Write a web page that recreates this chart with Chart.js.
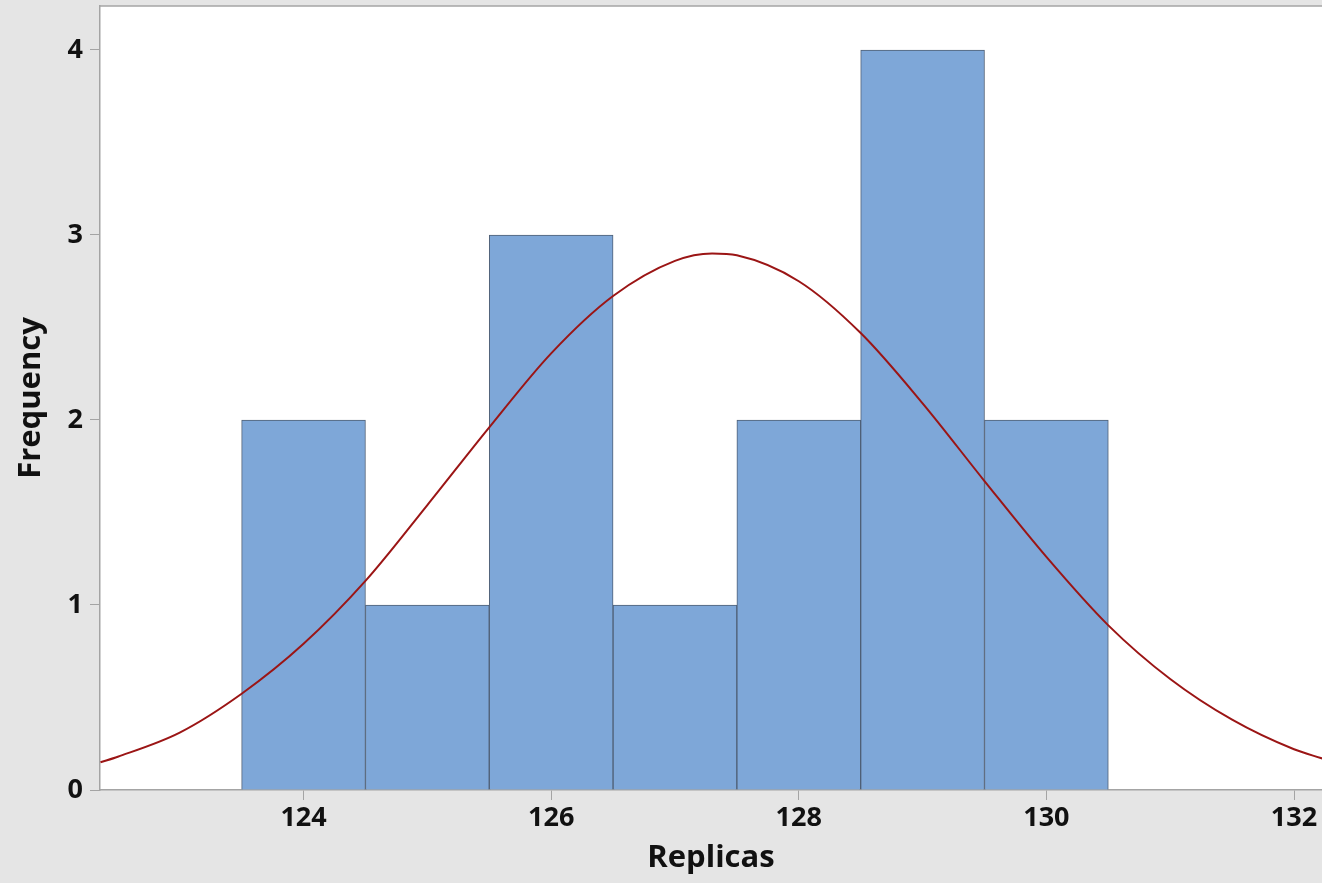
<!DOCTYPE html>
<html>
<head>
<meta charset="utf-8">
<script src="https://cdn.jsdelivr.net/npm/chart.js@4.4.1/dist/chart.umd.min.js"></script>
<style>
  html, body { margin: 0; padding: 0; background: #e5e5e5; }
  #wrap { width: 1322px; height: 883px; }
</style>
</head>
<body>
<div id="wrap"><canvas id="histChart" width="1322" height="883"></canvas></div>
<script>
// histogram bins (bin centers) and counts
const binCenters = [124, 125, 126, 127, 128, 129, 130];
const counts = [2, 1, 3, 1, 2, 4, 2];

// fitted normal curve
const curveX = [122.36, 122.5, 123, 123.5, 124, 124.5, 125, 125.5, 126, 126.5, 127, 127.3, 127.5, 128, 128.5, 129, 129.5, 130, 130.5, 131, 131.5, 132, 132.23];
const curveY = [0.15, 0.18, 0.31, 0.52, 0.79, 1.13, 1.54, 1.96, 2.36, 2.67, 2.86, 2.9, 2.89, 2.75, 2.47, 2.09, 1.67, 1.26, 0.89, 0.6, 0.38, 0.22, 0.17];

const xTicks = [124, 126, 128, 130, 132];
const yTicks = [0, 1, 2, 3, 4];

const AXIS_GRAY = '#a4a4a4';
const tickFont = { family: '"Open Sans", sans-serif', size: 27, weight: 'bold' };
const titleFont = { family: '"Open Sans", sans-serif', size: 31, weight: 'bold', lineHeight: 1 };

// gray page + white plot area + top frame line
const plotFrame = {
  id: 'plotFrame',
  beforeDraw(chart) {
    const { ctx, chartArea: a } = chart;
    ctx.save();
    ctx.fillStyle = '#e5e5e5';
    ctx.fillRect(0, 0, chart.width, chart.height);
    ctx.fillStyle = '#ffffff';
    ctx.fillRect(a.left, a.top, a.right - a.left, a.bottom - a.top);
    ctx.strokeStyle = AXIS_GRAY;
    ctx.lineWidth = 1.5;
    ctx.beginPath();
    ctx.moveTo(a.left, a.top);
    ctx.lineTo(a.right, a.top);
    ctx.stroke();
    ctx.restore();
  }
};

new Chart(document.getElementById('histChart'), {
  type: 'bar',
  data: {
    datasets: [
      {
        type: 'line',
        label: 'Normal',
        data: curveX.map((x, i) => ({ x, y: curveY[i] })),
        borderColor: '#9b1515',
        borderWidth: 2,
        pointRadius: 0,
        cubicInterpolationMode: 'monotone',
        order: 0
      },
      {
        label: 'Replicas',
        data: binCenters.map((x, i) => ({ x, y: counts[i] })),
        backgroundColor: '#7ea7d8',
        borderColor: '#4f5f75',
        borderWidth: 1,
        barPercentage: 1,
        categoryPercentage: 1,
        order: 1
      }
    ]
  },
  options: {
    responsive: false,
    animation: false,
    events: [],
    layout: { padding: { top: 6, right: 0, left: 0, bottom: 0 } },
    plugins: { legend: { display: false }, tooltip: { enabled: false } },
    scales: {
      x: {
        type: 'linear',
        offset: false,
        min: 122.356,
        max: 132.226,
        afterBuildTicks: s => { s.ticks = xTicks.map(v => ({ value: v })); },
        afterFit: s => { s.height = 93; s.paddingLeft = 0; s.paddingRight = 0; },
        grid: { offset: false, drawOnChartArea: false, drawTicks: true, tickLength: 10, color: AXIS_GRAY },
        border: { display: true, color: AXIS_GRAY, width: 1.5 },
        ticks: { font: tickFont, color: '#111', padding: 2, maxRotation: 0 },
        title: { display: true, text: 'Replicas', font: titleFont, color: '#111', padding: { top: 0, bottom: 9 } }
      },
      y: {
        min: 0,
        max: 4.2378,
        afterBuildTicks: s => { s.ticks = yTicks.map(v => ({ value: v })); },
        afterFit: s => { s.width = 100; s.paddingTop = 0; s.paddingBottom = 0; },
        grid: { offset: false, drawOnChartArea: false, drawTicks: true, tickLength: 10, color: AXIS_GRAY },
        border: { display: true, color: AXIS_GRAY, width: 1.5 },
        ticks: { font: tickFont, color: '#111', padding: 7 },
        title: { display: true, text: 'Frequency', font: titleFont, color: '#111', padding: { top: 16, bottom: 0 } }
      }
    }
  },
  plugins: [plotFrame]
});
</script>
</body>
</html>
